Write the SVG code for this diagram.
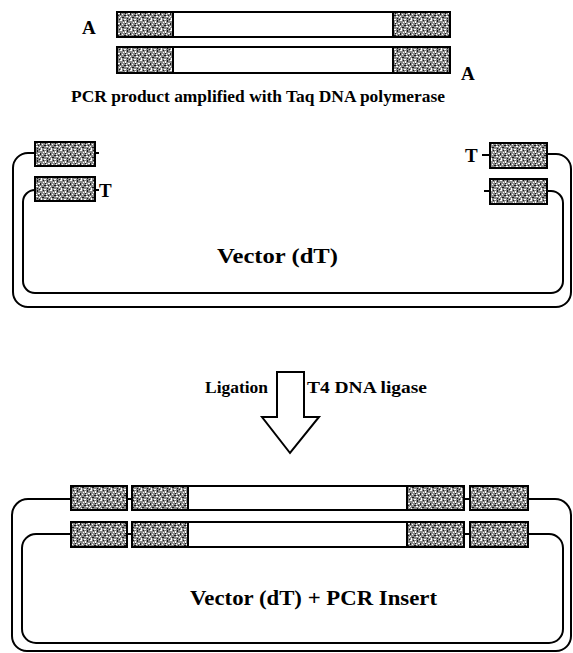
<svg xmlns="http://www.w3.org/2000/svg" width="573" height="653" viewBox="0 0 573 653">
<defs>
<pattern id="stip" width="10" height="10" patternUnits="userSpaceOnUse">
<rect width="10" height="10" fill="#8a8a8a"/>
<path fill="#ffffff" d="M0 0h2v1h-2z M5 1h1v2h-1z M8 3h2v1h-2z M2 4h1v1h-1z M6 6h2v1h-2z M1 8h1v2h-1z M4 9h2v1h-2z M9 7h1v1h-1z M3 2h1v1h-1z M6 4h1v1h-1z M0 6h1v1h-1z"/>
<path fill="#1a1a1a" d="M3 0h1v1h-1z M7 0h1v2h-1z M0 3h1v2h-1z M4 5h2v1h-2z M8 5h1v1h-1z M2 7h2v1h-2z M7 8h1v1h-1z M5 3h1v1h-1z M9 9h1v1h-1z"/>
</pattern>
<style>
.box{fill:url(#stip);stroke:#000;stroke-width:2}
.ins{fill:#fff;stroke:#000;stroke-width:2}
.ln{fill:none;stroke:#000;stroke-width:2}
.t{font-weight:bold;fill:#000}
</style>
</defs>
<rect width="573" height="653" fill="#fff"/>

<g id="pcr-product">
<rect class="ins" x="117" y="12" width="333" height="25"/>
<rect class="box" x="117" y="12" width="56" height="25"/>
<rect class="box" x="393" y="12" width="57" height="25"/>
<rect class="ins" x="117" y="47" width="333" height="26"/>
<rect class="box" x="117" y="47" width="56" height="26"/>
<rect class="box" x="393" y="47" width="57" height="26"/>
<text class="t" font-family="Liberation Serif, serif" x="82" y="34" font-size="19">A</text>
<text class="t" font-family="Liberation Serif, serif" x="461" y="80" font-size="19">A</text>
<text class="t" font-family="Liberation Serif, serif" x="71" y="102" font-size="17" textLength="374" lengthAdjust="spacingAndGlyphs">PCR product amplified with Taq DNA polymerase</text>
</g>

<g id="connectors">
<path class="ln" d="M35,153 H28 A15,15 0 0 0 13,168 V292 A15,15 0 0 0 28,307 H556 A15,15 0 0 0 571,292 V169 A15,15 0 0 0 556,154 H547"/>
<path class="ln" d="M35,190 A12,12 0 0 0 23,202 V281 A12,12 0 0 0 35,293 H551 A12,12 0 0 0 563,281 V203 A12,12 0 0 0 551,191 H547"/>
<path class="ln" d="M95,153 H99 M95,190 H99 M482,155 H490 M484,191 H490"/>
<path class="ln" d="M71,499 H28 A16,16 0 0 0 12,515 V636 A15,15 0 0 0 27,651 H556 A15,15 0 0 0 571,636 V515 A16,16 0 0 0 555,499 H528"/>
<path class="ln" d="M71,534 H36 A14,14 0 0 0 22,548 V629 A14,14 0 0 0 36,643 H549 A14,14 0 0 0 563,629 V548 A14,14 0 0 0 549,534 H528"/>
<path class="ln" d="M127,499 H132 M127,534 H132 M464,499 H470 M464,534 H470"/>
</g>

<g id="vector-dT">
<rect class="box" x="35" y="142" width="60" height="24"/>
<rect class="box" x="35" y="177" width="60" height="24"/>
<rect class="box" x="490" y="143" width="57" height="25"/>
<rect class="box" x="490" y="179" width="57" height="25"/>
<text class="t" font-family="Liberation Serif, serif" x="99" y="197" font-size="19">T</text>
<text class="t" font-family="Liberation Serif, serif" x="465" y="162" font-size="19">T</text>
<text class="t" font-family="Liberation Serif, serif" x="217" y="263" font-size="21" textLength="121" lengthAdjust="spacingAndGlyphs">Vector (dT)</text>
</g>

<g id="ligation-arrow">
<polygon class="ins" points="277,372 304,372 304,417 319,417 290,453 262,417 277,417"/>
<text class="t" font-family="Liberation Serif, serif" x="205" y="393" font-size="17" textLength="63" lengthAdjust="spacingAndGlyphs">Ligation</text>
<text class="t" font-family="Liberation Serif, serif" x="307" y="393" font-size="17" textLength="120" lengthAdjust="spacingAndGlyphs">T4 DNA ligase</text>
</g>

<g id="recombinant">
<rect class="ins" x="188" y="486" width="219" height="24"/>
<rect class="ins" x="188" y="522" width="219" height="25"/>
<rect class="box" x="71" y="486" width="56" height="24"/>
<rect class="box" x="132" y="486" width="56" height="24"/>
<rect class="box" x="407" y="486" width="57" height="24"/>
<rect class="box" x="470" y="486" width="58" height="24"/>
<rect class="box" x="71" y="522" width="56" height="25"/>
<rect class="box" x="132" y="522" width="56" height="25"/>
<rect class="box" x="407" y="522" width="57" height="25"/>
<rect class="box" x="470" y="522" width="58" height="25"/>
<text class="t" font-family="Liberation Serif, serif" x="190" y="605" font-size="22" textLength="247" lengthAdjust="spacingAndGlyphs">Vector (dT) +  PCR Insert</text>
</g>
</svg>
